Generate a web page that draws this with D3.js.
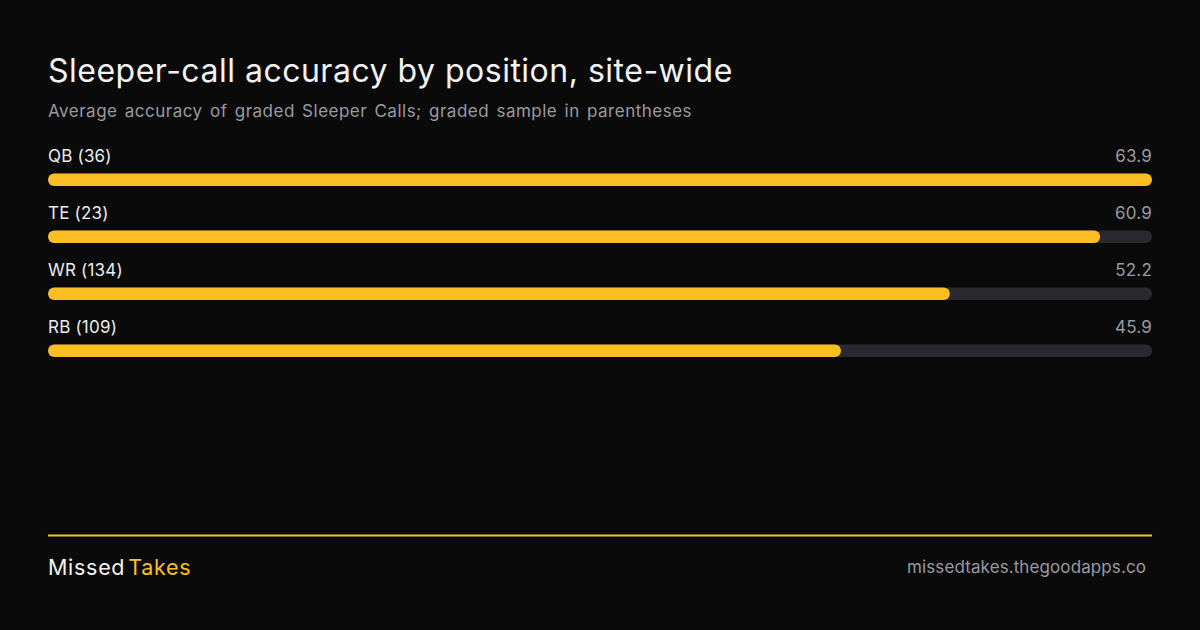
<!DOCTYPE html>
<html>
<head>
<meta charset="utf-8">
<script src="https://cdn.jsdelivr.net/npm/d3@7"></script>
<style>
  html, body { margin: 0; padding: 0; background: #0a0a0a; }
  svg { display: block; font-family: Inter, "Noto Sans", sans-serif; }
</style>
</head>
<body>
<svg id="chart" width="1200" height="630"></svg>
<script>
(function () {
  const POSITIONS = ['QB', 'TE', 'WR', 'RB'];
  const SAMPLES = [36, 23, 134, 109];
  const ACCURACY = [63.9, 60.9, 52.2, 45.9];

  const W = 1200, H = 630;
  const left = 48, right = 1152;
  const gold = '#fbbf24';

  const svg = d3.select('#chart');
  svg.append('rect').attr('width', W).attr('height', H).attr('fill', '#0a0a0a');

  svg.append('text')
    .attr('x', left).attr('y', 82)
    .attr('fill', '#f2f2f2')
    .attr('font-size', 32)
    .attr('letter-spacing', 0.5)
    .text('Sleeper-call accuracy by position, site-wide');

  svg.append('text')
    .attr('x', left).attr('y', 117)
    .attr('fill', '#9a9aa2')
    .attr('font-size', 17)
    .attr('letter-spacing', 0.5)
    .attr('word-spacing', 2)
    .text('Average accuracy of graded Sleeper Calls; graded sample in parentheses');

  const x = d3.scaleLinear()
    .domain([0, d3.max(ACCURACY)])
    .range([left, right]);

  const y = d3.scaleBand()
    .domain(POSITIONS)
    .range([145, 373])
    .paddingInner(0);

  const barH = 12.5;
  const rows = svg.selectAll('g.row')
    .data(POSITIONS.map((p, i) => ({ pos: p, n: SAMPLES[i], v: ACCURACY[i] })))
    .join('g')
    .attr('class', 'row')
    .attr('transform', d => `translate(0,${y(d.pos)})`);

  rows.append('text')
    .attr('x', left).attr('y', 17)
    .attr('fill', '#ececec')
    .attr('font-size', 17)
    .attr('letter-spacing', 0.2)
    .text(d => `${d.pos} (${d.n})`);

  rows.append('text')
    .attr('x', right).attr('y', 17)
    .attr('text-anchor', 'end')
    .attr('fill', '#9a9aa2')
    .attr('font-size', 17)
    .attr('letter-spacing', 0.2)
    .text(d => d.v.toFixed(1));

  rows.append('rect')
    .attr('x', left).attr('y', 28.5)
    .attr('width', right - left).attr('height', barH)
    .attr('rx', barH / 2)
    .attr('fill', '#2b2930');

  rows.append('rect')
    .attr('x', left).attr('y', 28.5)
    .attr('width', d => x(d.v) - left).attr('height', barH)
    .attr('rx', barH / 2)
    .attr('fill', gold);

  // footer
  svg.append('line')
    .attr('x1', left).attr('x2', right)
    .attr('y1', 535.5).attr('y2', 535.5)
    .attr('stroke', gold).attr('stroke-width', 2);

  const brand = svg.append('text')
    .attr('x', left).attr('y', 575)
    .attr('font-size', 21.5)
    .attr('letter-spacing', 0.7);
  brand.append('tspan').attr('fill', '#f2f2f2').text('Missed');
  brand.append('tspan').attr('fill', gold).attr('dx', 3).text('Takes');

  svg.append('text')
    .attr('x', 1146).attr('y', 573)
    .attr('text-anchor', 'end')
    .attr('fill', '#9a9aa2')
    .attr('font-size', 17)
    .attr('letter-spacing', 0.1)
    .text('missedtakes.thegoodapps.co');
})();
</script>
</body>
</html>
